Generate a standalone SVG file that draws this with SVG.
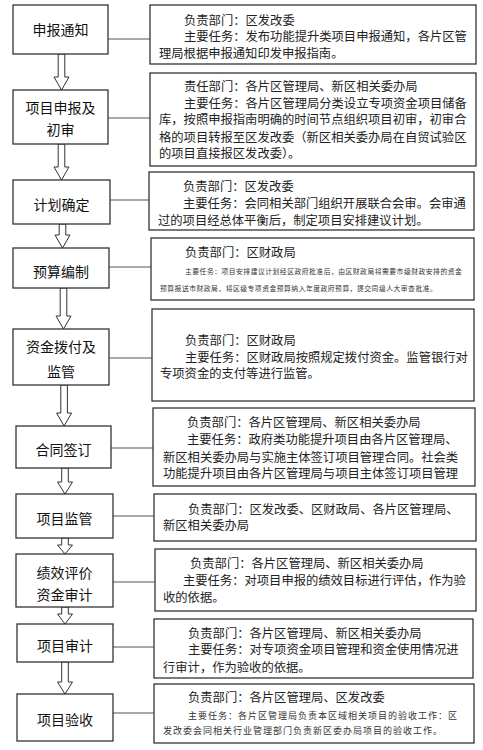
<svg xmlns="http://www.w3.org/2000/svg" width="483" height="750" viewBox="0 0 483 750">
<style>
.lb{fill:#fff;stroke:#333;stroke-width:1.3}
.rb{fill:#fff;stroke:#333;stroke-width:1.3}
.lt{font-family:"Noto Sans CJK SC",sans-serif;font-size:14px;fill:#111;text-anchor:middle}
.rt{font-family:"Liberation Serif","Noto Sans CJK SC",serif;font-size:12.3px;fill:#222}
.st{font-family:"Liberation Serif","Noto Sans CJK SC",serif;font-size:6.8px;fill:#333;letter-spacing:0.5px}
.mt{font-family:"Liberation Serif","Noto Sans CJK SC",serif;font-size:9px;fill:#333;letter-spacing:1px}
.cn{stroke:#555;stroke-width:1;fill:none}
.ar{fill:#fff;stroke:#333;stroke-width:1}
</style>
<g id="connectors">
<line class="cn" x1="108" y1="39" x2="150" y2="39"/>
<line class="cn" x1="108" y1="118" x2="150" y2="118"/>
<line class="cn" x1="110" y1="200" x2="149" y2="200"/>
<line class="cn" x1="109" y1="267" x2="151" y2="267"/>
<line class="cn" x1="109" y1="358" x2="152" y2="358"/>
<line class="cn" x1="111" y1="448" x2="153" y2="448"/>
<line class="cn" x1="113" y1="516" x2="154" y2="516"/>
<line class="cn" x1="113" y1="582" x2="155" y2="582"/>
<line class="cn" x1="113" y1="647" x2="154" y2="647"/>
<line class="cn" x1="113" y1="713" x2="154" y2="713"/>
<polygon class="ar" points="58.2,54 64.8,54 64.8,77 69,77 61.5,90 54,77 58.2,77"/>
<polygon class="ar" points="58.2,144 64.8,144 64.8,167 69,167 61.5,180 54,167 58.2,167"/>
<polygon class="ar" points="59.2,224 65.8,224 65.8,235 70,235 62.5,248 55,235 59.2,235"/>
<polygon class="ar" points="60.2,288 66.8,288 66.8,316 71,316 63.5,329 56,316 60.2,316"/>
<polygon class="ar" points="60.8,385 67.4,385 67.4,413 71.6,413 64.1,426 56.6,413 60.8,413"/>
<polygon class="ar" points="61.7,468 68.3,468 68.3,482 72.5,482 65,494 57.5,482 61.7,482"/>
<polygon class="ar" points="61.7,538 68.3,538 68.3,545 72.5,545 65,554 57.5,545 61.7,545"/>
<polygon class="ar" points="61.7,607 68.3,607 68.3,614 72.5,614 65,624 57.5,614 61.7,614"/>
<polygon class="ar" points="61.7,662 68.3,662 68.3,682 72.5,682 65,694 57.5,682 61.7,682"/>
</g>
<g id="n1"><rect class="lb" x="13" y="5" width="95" height="49"/><text class="lt" x="60.5" y="35">申报通知</text></g>
<g id="n2"><rect class="lb" x="13" y="90" width="95" height="54"/><text class="lt" x="60.5" y="113">项目申报及</text><text class="lt" x="60.5" y="135">初审</text></g>
<g id="n3"><rect class="lb" x="13" y="180" width="97" height="44"/><text class="lt" x="61.5" y="210">计划确定</text></g>
<g id="n4"><rect class="lb" x="13" y="248" width="96" height="40"/><text class="lt" x="61" y="277">预算编制</text></g>
<g id="n5"><rect class="lb" x="13" y="329" width="96" height="56"/><text class="lt" x="61" y="352">资金拨付及</text><text class="lt" x="61" y="377">监管</text></g>
<g id="n6"><rect class="lb" x="16" y="426" width="95" height="42"/><text class="lt" x="63.5" y="455">合同签订</text></g>
<g id="n7"><rect class="lb" x="16" y="494" width="97" height="44"/><text class="lt" x="64.5" y="524">项目监管</text></g>
<g id="n8"><rect class="lb" x="16" y="554" width="97" height="53"/><text class="lt" x="64.5" y="578">绩效评价</text><text class="lt" x="64.5" y="600">资金审计</text></g>
<g id="n9"><rect class="lb" x="17" y="624" width="96" height="38"/><text class="lt" x="65" y="651">项目审计</text></g>
<g id="n10"><rect class="lb" x="17" y="694" width="96" height="47"/><text class="lt" x="65" y="725">项目验收</text></g>
<g id="d1"><rect class="rb" x="150" y="5" width="326" height="59"/>
<text class="rt" x="184" y="24.5">负责部门：区发改委</text>
<text class="rt" x="184" y="40.5">主要任务：发布功能提升类项目申报通知，各片区管</text>
<text class="rt" x="159" y="57.5">理局根据申报通知印发申报指南。</text></g>
<g id="d2"><rect class="rb" x="150" y="73" width="326" height="93"/>
<text class="rt" x="184" y="90.5">责任部门：各片区管理局、新区相关委办局</text>
<text class="rt" x="184" y="107.5">主要任务：各片区管理局分类设立专项资金项目储备</text>
<text class="rt" x="159" y="123.5">库，按照申报指南明确的时间节点组织项目初审，初审合</text>
<text class="rt" x="159" y="141.5">格的项目转报至区发改委（新区相关委办局在自贸试验区</text>
<text class="rt" x="159" y="157.5">的项目直接报区发改委）。</text></g>
<g id="d3"><rect class="rb" x="149" y="172" width="325" height="58"/>
<text class="rt" x="183" y="190.5">负责部门：区发改委</text>
<text class="rt" x="183" y="207.5">主要任务：会同相关部门组织开展联合会审。会审通</text>
<text class="rt" x="158" y="224.5">过的项目经总体平衡后，制定项目安排建议计划。</text></g>
<g id="d4"><rect class="rb" x="151" y="238" width="323" height="62"/>
<text class="rt" x="185" y="256.5">负责部门：区财政局</text>
<text class="st" x="185" y="273.5">主要任务：项目安排建议计划经区政府批准后，由区财政局将需要市级财政安排的资金</text>
<text class="st" x="160" y="290.5">预算报送市财政局，将区级专项资金预算纳入年度政府预算，提交同级人大审查批准。</text></g>
<g id="d5"><rect class="rb" x="152" y="309" width="322" height="92"/>
<text class="rt" x="185" y="344.5">负责部门：区财政局</text>
<text class="rt" x="185" y="361.5">主要任务：区财政局按照规定拨付资金。监管银行对</text>
<text class="rt" x="160" y="377.5">专项资金的支付等进行监管。</text></g>
<g id="d6"><rect class="rb" x="153" y="408" width="322" height="78"/>
<text class="rt" x="187" y="426.5">负责部门：各片区管理局、新区相关委办局</text>
<text class="rt" x="187" y="443.5">主要任务：政府类功能提升项目由各片区管理局、</text>
<text class="rt" x="163" y="461.5">新区相关委办局与实施主体签订项目管理合同。社会类</text>
<text class="rt" x="163" y="477.5">功能提升项目由各片区管理局与项目主体签订项目管理</text></g>
<g id="d7"><rect class="rb" x="154" y="494" width="322" height="47"/>
<text class="rt" x="188" y="513.5">负责部门：区发改委、区财政局、各片区管理局、</text>
<text class="rt" x="163" y="529.5">新区相关委办局</text></g>
<g id="d8"><rect class="rb" x="155" y="549" width="321" height="62"/>
<text class="rt" x="190" y="567.5">负责部门：各片区管理局、新区相关委办局</text>
<text class="rt" x="183" y="584.5">主要任务：对项目申报的绩效目标进行评估，作为验</text>
<text class="rt" x="163" y="601.5">收的依据。</text></g>
<g id="d9"><rect class="rb" x="154" y="619" width="319" height="59"/>
<text class="rt" x="188" y="637.5">负责部门：各片区管理局、新区相关委办局</text>
<text class="rt" x="188" y="653.5">主要任务：对专项资金项目管理和资金使用情况进</text>
<text class="rt" x="163" y="671.5">行审计，作为验收的依据。</text></g>
<g id="d10"><rect class="rb" x="154" y="684" width="320" height="59"/>
<text class="rt" x="188" y="701.5">负责部门：各片区管理局、区发改委</text>
<text class="mt" x="188" y="718.5">主要任务：各片区管理局负责本区域相关项目的验收工作：区</text>
<text class="mt" x="163" y="733.5">发改委会同相关行业管理部门负责新区委办局项目的验收工作。</text></g>
</svg>
